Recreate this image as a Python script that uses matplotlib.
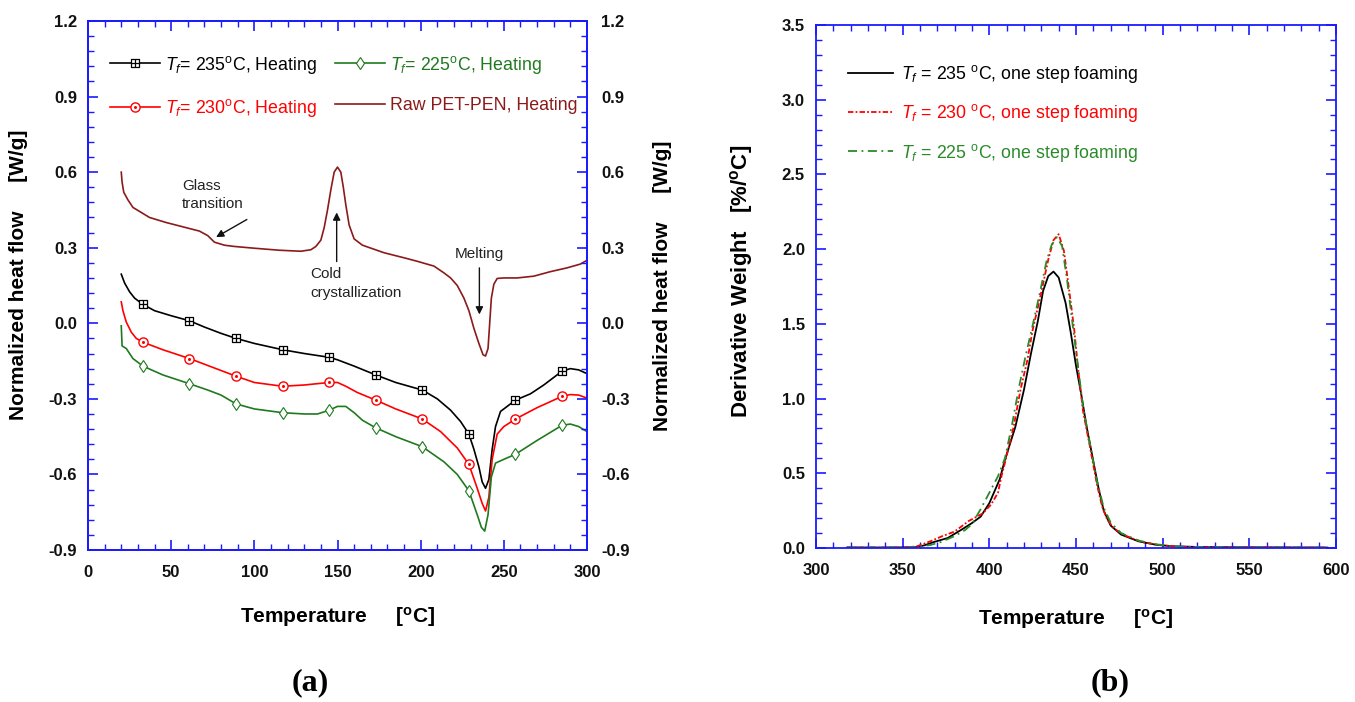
import numpy as np
import matplotlib
matplotlib.use("Agg")
import matplotlib.pyplot as plt
from matplotlib.path import Path
from matplotlib.ticker import MultipleLocator, FormatStrFormatter

# ---------------- (a) DSC heating curves ----------------
marker_T = [33, 61, 89, 117, 145, 173, 201, 229, 257, 285]

T_235 = [20, 22, 25, 28, 33, 40, 50, 61, 70, 80, 89, 100, 117, 130, 145, 150, 160, 173, 185,
         201, 210, 218, 224, 229, 232, 235, 237, 239, 241, 243, 245, 248, 257, 266, 274, 285,
         290, 295, 300]
q_235 = [0.195, 0.16, 0.125, 0.10, 0.075, 0.05, 0.03, 0.01, -0.015, -0.04, -0.06, -0.08, -0.105,
         -0.12, -0.135, -0.145, -0.17, -0.205, -0.235, -0.265, -0.30, -0.345, -0.39, -0.44, -0.50,
         -0.57, -0.63, -0.655, -0.62, -0.50, -0.41, -0.35, -0.305, -0.28, -0.245, -0.19, -0.18,
         -0.185, -0.20]

T_230 = [20, 21, 23, 26, 29, 33, 45, 61, 75, 89, 100, 117, 130, 145, 150, 155, 162, 173, 185,
         201, 212, 222, 229, 234, 237, 239, 241, 243, 246, 250, 257, 270, 285, 290, 295, 300]
q_230 = [0.085, 0.05, 0.005, -0.035, -0.06, -0.075, -0.105, -0.14, -0.175, -0.21, -0.235, -0.25,
         -0.245, -0.235, -0.235, -0.25, -0.275, -0.305, -0.34, -0.38, -0.43, -0.495, -0.56, -0.655,
         -0.715, -0.745, -0.69, -0.54, -0.44, -0.41, -0.38, -0.335, -0.29, -0.283, -0.285, -0.297]

T_225 = [20, 20.5, 23, 27, 33, 45, 61, 72, 80, 89, 100, 117, 130, 138, 145, 150, 155, 160, 165,
         173, 185, 201, 214, 222, 229, 234, 236.5, 238.5, 240.5, 242.5, 245, 250, 257, 270, 285,
         290, 295, 300]
q_225 = [-0.01, -0.09, -0.10, -0.14, -0.17, -0.205, -0.24, -0.265, -0.285, -0.32, -0.34, -0.355,
         -0.36, -0.36, -0.345, -0.33, -0.33, -0.355, -0.385, -0.415, -0.45, -0.49, -0.55, -0.60,
         -0.665, -0.76, -0.81, -0.825, -0.76, -0.61, -0.555, -0.54, -0.52, -0.465, -0.405, -0.40,
         -0.41, -0.43]

T_raw = [20, 20.5, 21.5, 24, 27, 32, 37, 47, 57, 67, 72, 76, 82, 88, 100, 115, 128, 134, 137, 140,
         142, 144, 146, 148, 150, 152, 153.5, 155, 157, 160, 165, 178, 190, 198, 208, 214, 218,
         222, 226, 229, 232, 235, 237.5, 239, 240.5, 241.5, 242.5, 244, 246, 250, 258, 268, 278,
         288, 296, 300]
q_raw = [0.60, 0.56, 0.52, 0.49, 0.46, 0.44, 0.42, 0.40, 0.383, 0.366, 0.348, 0.322, 0.31, 0.305,
         0.298, 0.29, 0.286, 0.292, 0.305, 0.33, 0.38, 0.45, 0.53, 0.60, 0.62, 0.60, 0.54, 0.47,
         0.39, 0.335, 0.31, 0.28, 0.26, 0.246, 0.227, 0.20, 0.18, 0.15, 0.10, 0.05, -0.02, -0.08,
         -0.125, -0.13, -0.10, 0.00, 0.10, 0.155, 0.178, 0.18, 0.18, 0.187, 0.205, 0.22, 0.235, 0.25]

# ---------------- (b) DTG curves ----------------
T_b235 = [318, 335, 350, 357, 362, 368, 376, 384, 390, 395, 400, 403, 406, 409, 415, 420, 424, 428,
          431, 434, 437, 440, 444, 447, 450, 453, 456, 460, 463, 466, 470, 476, 486, 496, 506, 520,
          545, 570, 595]
d_b235 = [0.004, 0.003, 0.004, 0.006, 0.016, 0.04, 0.067, 0.123, 0.167, 0.21, 0.30, 0.38, 0.46,
          0.59, 0.81, 1.06, 1.30, 1.52, 1.72, 1.82, 1.85, 1.81, 1.64, 1.44, 1.22, 1.03, 0.82, 0.58,
          0.40, 0.25, 0.15, 0.09, 0.045, 0.022, 0.011, 0.007, 0.005, 0.004, 0.003]

T_b230 = [318, 335, 350, 358, 366, 373, 380, 388, 396, 401, 405, 407, 409, 414, 418, 422, 425, 429,
          434, 437, 440, 443, 446, 449, 451, 454, 458, 462, 465, 468, 472, 478, 488, 498, 508, 520,
          545, 570, 595]
d_b230 = [0.003, 0.003, 0.004, 0.01, 0.045, 0.08, 0.11, 0.18, 0.23, 0.29, 0.37, 0.48, 0.57, 0.81,
          1.06, 1.26, 1.46, 1.66, 1.93, 2.06, 2.10, 1.99, 1.73, 1.46, 1.22, 0.92, 0.68, 0.43, 0.28,
          0.19, 0.13, 0.085, 0.04, 0.02, 0.01, 0.006, 0.005, 0.004, 0.003]

T_b225 = [318, 335, 350, 358, 366, 372, 380, 386, 390, 395, 400, 405, 409, 413, 417, 421, 425, 429,
          433, 436, 439, 442, 445, 448, 451, 454, 458, 462, 466, 470, 476, 486, 496, 506, 520, 545,
          570, 595]
d_b225 = [0.003, 0.004, 0.004, 0.006, 0.02, 0.04, 0.08, 0.12, 0.16, 0.26, 0.37, 0.48, 0.60, 0.82,
          1.07, 1.29, 1.49, 1.70, 1.92, 2.03, 2.08, 2.02, 1.78, 1.50, 1.23, 0.95, 0.70, 0.45, 0.27,
          0.17, 0.10, 0.05, 0.025, 0.012, 0.007, 0.005, 0.004, 0.003]

# ---------------- styling ----------------
plt.rcParams["font.family"] = ["Liberation Sans", "DejaVu Sans"]
plt.rcParams["mathtext.fontset"] = "custom"
plt.rcParams["mathtext.rm"] = "Liberation Sans"
plt.rcParams["mathtext.it"] = "Liberation Sans:italic"
plt.rcParams["mathtext.bf"] = "Liberation Sans:bold"

SPINE = "#1a1aff"
BLACK = "#000000"
RED = "#ff0000"
GREEN = "#1f7a1f"
BROWN = "#8b1a1a"
TICKFS = 12

# square with a cross inside
sq_cross = Path([(-1, -1), (1, -1), (1, 1), (-1, 1), (-1, -1), (0, -1), (0, 1), (-1, 0), (1, 0)],
                [Path.MOVETO, Path.LINETO, Path.LINETO, Path.LINETO, Path.CLOSEPOLY,
                 Path.MOVETO, Path.LINETO, Path.MOVETO, Path.LINETO])
# circle with a dot in the centre
outer = Path.unit_circle()
inner = Path(outer.vertices * 0.18, outer.codes)
circ_dot = Path.make_compound_path(outer, inner)

fig = plt.figure(figsize=(13.55, 7.02), dpi=100)
axa = fig.add_axes([88 / 1355, 1 - 550 / 702, 499 / 1355, 529 / 702])
axb = fig.add_axes([816 / 1355, 1 - 548 / 702, 520 / 1355, 523 / 702])


def style_spines(ax):
    for s in ax.spines.values():
        s.set_color(SPINE)
        s.set_linewidth(1.3)


def style_ticks(ax, **kw):
    ax.tick_params(which="both", direction="in", color=SPINE, labelsize=TICKFS,
                   labelcolor="#111111", **kw)
    ax.tick_params(which="major", length=7, width=1.2)
    ax.tick_params(which="minor", length=4, width=1.0)
    for lab in ax.get_xticklabels() + ax.get_yticklabels():
        lab.set_fontweight("bold")


def style_axes(ax):
    style_spines(ax)
    style_ticks(ax, top=True, right=True)
    ax.tick_params(axis="x", pad=11)
    ax.tick_params(axis="y", pad=8)


def idx(ts, sel):
    return [ts.index(t) for t in sel]


# ---- panel (a)
l1, = axa.plot(T_235, q_235, color=BLACK, lw=1.2, marker=sq_cross, ms=6.2, mfc="white",
               mec=BLACK, mew=0.9, markevery=idx(T_235, marker_T),
               label=r"$T_f$= 235$^{\rm o}$C, Heating")
l2, = axa.plot(T_230, q_230, color=RED, lw=1.2, marker=circ_dot, ms=6.6, mfc="white",
               mec=RED, mew=1.0, markevery=idx(T_230, marker_T),
               label=r"$T_f$= 230$^{\rm o}$C, Heating")
l3, = axa.plot(T_225, q_225, color=GREEN, lw=1.2, marker="d", ms=6.5, mfc="white",
               mec=GREEN, mew=0.8, markevery=idx(T_225, marker_T),
               label=r"$T_f$= 225$^{\rm o}$C, Heating")
l4, = axa.plot(T_raw, q_raw, color=BROWN, lw=1.2, label="Raw PET-PEN, Heating")

axa.set_xlim(0, 300)
axa.set_ylim(-0.9, 1.2)
axa.xaxis.set_major_locator(MultipleLocator(50))
axa.xaxis.set_minor_locator(MultipleLocator(10))
axa.yaxis.set_major_locator(MultipleLocator(0.3))
axa.yaxis.set_minor_locator(MultipleLocator(0.06))
axa.yaxis.set_major_formatter(FormatStrFormatter("%.1f"))
style_axes(axa)

axa2 = axa.twinx()
axa2.set_ylim(-0.9, 1.2)
axa2.yaxis.set_major_locator(MultipleLocator(0.3))
axa2.yaxis.set_minor_locator(MultipleLocator(0.06))
axa2.yaxis.set_major_formatter(FormatStrFormatter("%.1f"))
style_spines(axa2)
style_ticks(axa2, pad=10)

axa.set_xlabel(r"Temperature     [$^{\mathbf{o}}$C]", fontsize=15, fontweight="bold")
axa.xaxis.set_label_coords(0.5, -0.104)
axa.set_ylabel("Normalized heat flow     [W/g]", fontsize=15, fontweight="bold")
axa.yaxis.set_label_coords(-0.12, 0.52)
axa2.set_ylabel("Normalized heat flow     [W/g]", fontsize=15, fontweight="bold",
                rotation=90)
axa2.yaxis.set_label_coords(1.132, 0.5)

axa.legend(handles=[l1, l2, l3, l4], ncol=2, loc="upper left",
           bbox_to_anchor=(0.027, 0.955), frameon=False, fontsize=12.8,
           handlelength=2.8, handletextpad=0.28, columnspacing=1.0,
           labelspacing=1.2, borderpad=0, labelcolor="linecolor")

ann_kw = dict(fontsize=11, color="#222222")
arrow_kw = dict(arrowstyle="-|>", color="#111111", lw=1.0, mutation_scale=11,
                shrinkA=0, shrinkB=0)
axa.text(56.5, 0.544, "Glass", va="center", ha="left", **ann_kw)
axa.text(56.5, 0.473, "transition", va="center", ha="left", **ann_kw)
axa.annotate("", xy=(77, 0.342), xytext=(95.5, 0.412), arrowprops=arrow_kw)
axa.text(133.5, 0.195, "Cold", va="center", ha="left", **ann_kw)
axa.text(133.5, 0.119, "crystallization", va="center", ha="left", **ann_kw)
axa.annotate("", xy=(149.5, 0.44), xytext=(149.5, 0.245), arrowprops=arrow_kw)
axa.text(235, 0.276, "Melting", va="center", ha="center", **ann_kw)
axa.annotate("", xy=(235.3, 0.035), xytext=(235.3, 0.22), arrowprops=arrow_kw)

# ---- panel (b)
m1, = axb.plot(T_b235, d_b235, color=BLACK, lw=1.3, ls="-",
               label=r"$T_f$ = 235 $^{\rm o}$C, one step foaming")
m2, = axb.plot(T_b230, d_b230, color=RED, lw=1.3, ls=(0, (3, 1.2, 1, 1.2)),
               label=r"$T_f$ = 230 $^{\rm o}$C, one step foaming")
m3, = axb.plot(T_b225, d_b225, color="#2a8a2a", lw=1.3, ls=(0, (5, 2.5, 1, 2.5)),
               label=r"$T_f$ = 225 $^{\rm o}$C, one step foaming")
axb.set_xlim(300, 600)
axb.set_ylim(0, 3.5)
axb.xaxis.set_major_locator(MultipleLocator(50))
axb.xaxis.set_minor_locator(MultipleLocator(10))
axb.yaxis.set_major_locator(MultipleLocator(0.5))
axb.yaxis.set_minor_locator(MultipleLocator(0.1))
axb.yaxis.set_major_formatter(FormatStrFormatter("%.1f"))
style_axes(axb)
axb.set_xlabel(r"Temperature     [$^{\mathbf{o}}$C]", fontsize=15, fontweight="bold")
axb.xaxis.set_label_coords(0.5, -0.113)
axb.set_ylabel(r"Derivative Weight   [%/$^{\mathbf{o}}$C]", fontsize=16, fontweight="bold")
axb.yaxis.set_label_coords(-0.117, 0.51)

axb.legend(handles=[m1, m2, m3], loc="upper left", bbox_to_anchor=(0.045, 0.944),
           frameon=False, fontsize=12.8, handlelength=2.5, handletextpad=0.45,
           labelspacing=0.97, borderpad=0, labelcolor="linecolor")

fig.text(310 / 1355, 1 - 683 / 702, "(a)", fontsize=23, fontweight="bold",
         family="Liberation Serif", ha="center", va="center")
fig.text(1110 / 1355, 1 - 683 / 702, "(b)", fontsize=23, fontweight="bold",
         family="Liberation Serif", ha="center", va="center")

fig.savefig("out.png", dpi=100, facecolor="white")
